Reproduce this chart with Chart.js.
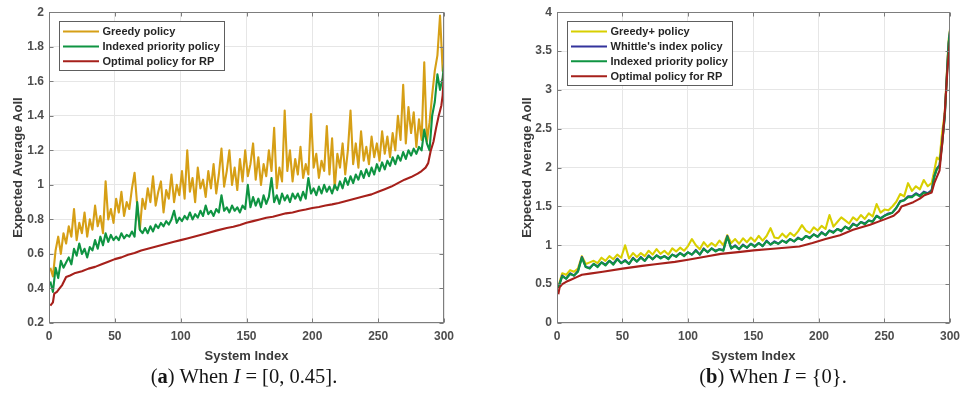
<!DOCTYPE html>
<html><head><meta charset="utf-8">
<script src="https://cdn.jsdelivr.net/npm/chart.js@4.4.0/dist/chart.umd.min.js"></script>
<style>
html,body{margin:0;padding:0;background:#fff;width:966px;height:406px;overflow:hidden}
.wrap{position:absolute;top:0;width:483px;height:370px}
#wa{left:0}#wb{left:483px}
.cap{position:absolute;top:365px;font-family:"Liberation Serif","Times New Roman",serif;font-size:20.5px;color:#151515;white-space:nowrap;transform:translateX(-50%)}
</style></head>
<body>
<div class="wrap" id="wa"><canvas id="ca" width="483" height="370"></canvas></div>
<div class="wrap" id="wb"><canvas id="cb" width="483" height="370"></canvas></div>
<div class="cap" style="left:244px">(<b>a</b>) When <i>I</i> = [0, 0.45].</div>
<div class="cap" style="left:773px">(<b>b</b>) When <i>I</i> = {0}.</div>
<script>
// ---------- tick labels ----------
const xTickValues = [0, 50, 100, 150, 200, 250, 300];
const yTicksA = [0.2, 0.4, 0.6, 0.8, 1, 1.2, 1.4, 1.6, 1.8, 2];
const yTicksB = [0, 0.5, 1, 1.5, 2, 2.5, 3, 3.5, 4];

// ---------- (a) I = [0, 0.45] : system indices 1,3,...,299,300 ----------
const sysIdxA = [];
for (let k = 0; k < 150; k++) sysIdxA.push(2 * k + 1);
sysIdxA.push(300);

const greedyA = [
0.52,0.47,0.62,0.70,0.60,0.72,0.66,0.76,0.70,0.86,
0.68,0.78,0.72,0.84,0.70,0.80,0.74,0.88,0.76,0.82,
0.72,1.02,0.80,0.86,0.78,0.92,0.84,0.96,0.82,0.90,
0.86,0.98,1.07,0.88,0.74,0.92,0.86,0.98,0.90,1.05,
0.88,0.96,1.02,0.84,0.97,0.92,1.06,0.90,1.00,0.94,
1.08,0.92,1.20,0.96,1.04,0.90,1.10,0.98,1.03,0.93,
1.08,0.98,1.12,0.95,1.06,1.21,0.99,1.08,1.20,1.00,
1.10,0.97,1.15,1.02,1.20,1.05,1.12,1.24,1.03,1.16,
1.00,1.12,1.05,1.20,1.08,1.33,0.98,1.10,1.02,1.43,
1.08,1.20,1.02,1.15,1.06,1.22,1.04,1.12,1.06,1.41,
1.10,1.18,1.04,1.14,1.08,1.34,1.06,1.27,0.98,1.18,
1.10,1.24,1.06,1.20,1.43,1.12,1.24,1.10,1.31,1.14,
1.22,1.12,1.28,1.16,1.24,1.14,1.31,1.18,1.28,1.16,
1.30,1.20,1.40,1.26,1.58,1.24,1.45,1.30,1.42,1.22,
1.38,1.26,1.71,1.25,1.36,1.52,1.66,1.75,1.98,1.66,
1.80];

const indexedA = [
0.44,0.38,0.52,0.46,0.56,0.52,0.55,0.58,0.54,0.63,
0.59,0.66,0.60,0.63,0.58,0.64,0.62,0.68,0.63,0.70,
0.65,0.72,0.67,0.71,0.68,0.70,0.68,0.72,0.69,0.71,
0.70,0.73,0.70,0.90,0.74,0.72,0.75,0.72,0.76,0.73,
0.77,0.75,0.78,0.76,0.79,0.77,0.80,0.85,0.78,0.81,
0.79,0.82,0.80,0.84,0.80,0.83,0.81,0.85,0.82,0.88,
0.83,0.85,0.82,0.86,0.84,0.94,0.85,0.87,0.84,0.88,
0.85,0.87,0.84,0.88,0.86,1.00,0.87,0.93,0.88,0.92,
0.87,0.94,0.89,0.93,1.04,0.90,0.94,0.89,0.95,0.91,
0.94,0.90,0.95,0.92,0.95,0.91,0.96,0.92,1.04,0.95,
0.98,0.94,0.99,0.95,1.00,0.96,0.99,0.95,1.00,0.97,
1.02,0.98,1.04,1.00,1.05,1.01,1.06,1.03,1.08,1.04,
1.09,1.05,1.10,1.06,1.12,1.08,1.13,1.09,1.14,1.11,
1.16,1.12,1.17,1.14,1.19,1.15,1.20,1.17,1.21,1.18,
1.22,1.20,1.32,1.24,1.20,1.40,1.48,1.64,1.55,1.62,
1.70];

const optimalIdxA = [1,3,4,6,8,10,13,16,20,
25,30,35,40,45,50,55,60,65,70,75,80,85,90,95,100,105,110,115,120,
127,135,
140,145,150,155,160,165,170,175,180,185,190,195,200,205,210,215,220,225,230,235,240,245,250,255,260,265,270,275,280,
283,286,288,290,292,294,296,298,299,300];
const optimalA = [0.30,0.32,0.37,0.38,0.40,0.42,0.466,0.475,0.49,
0.50,0.515,0.525,0.54,0.555,0.57,0.58,0.595,0.605,0.62,0.63,0.64,0.65,0.66,0.67,0.68,0.69,0.70,0.71,0.72,
0.735,0.75,
0.757,0.768,0.78,0.79,0.80,0.81,0.815,0.825,0.835,0.84,0.85,0.857,0.866,0.872,0.88,0.887,0.895,0.905,0.915,0.925,0.935,0.945,0.96,0.975,0.99,1.01,1.03,1.045,1.065,
1.08,1.10,1.126,1.20,1.25,1.33,1.40,1.46,1.52,1.65];

// ---------- (b) I = {0} : system indices 1,4,...,286 then 288..300 ----------
const sysIdxB = [];
for (let k = 0; k < 96; k++) sysIdxB.push(3 * k + 1);
sysIdxB.push(288, 290, 292, 294, 296, 298, 299, 300);

const greedyPlusB = [
0.47,0.64,0.62,0.68,0.66,0.70,0.86,0.76,0.78,0.80,
0.77,0.84,0.80,0.86,0.82,0.88,0.84,1.00,0.83,0.90,
0.85,0.90,0.86,0.93,0.88,0.95,0.89,0.93,0.88,0.96,
0.92,0.97,0.93,0.99,1.08,1.00,0.95,1.04,0.98,1.03,
0.99,1.06,1.00,1.13,1.03,1.08,1.02,1.09,1.04,1.10,
1.05,1.12,1.06,1.12,1.22,1.10,1.09,1.15,1.10,1.16,
1.12,1.18,1.26,1.19,1.16,1.23,1.19,1.25,1.21,1.39,
1.24,1.30,1.36,1.32,1.28,1.36,1.32,1.39,1.34,1.41,
1.37,1.53,1.42,1.46,1.45,1.50,1.56,1.66,1.63,1.80,
1.70,1.76,1.72,1.84,1.76,1.80,
1.96,2.13,2.10,2.45,2.70,3.35,3.65,3.78];

const whittleB = [
0.46,0.61,0.57,0.64,0.61,0.67,0.85,0.72,0.71,0.76,
0.73,0.78,0.75,0.80,0.76,0.83,0.77,0.81,0.76,0.84,
0.79,0.85,0.80,0.87,0.82,0.87,0.84,0.86,0.83,0.88,
0.86,0.90,0.87,0.91,0.88,0.94,0.88,0.96,0.91,0.96,
0.93,0.95,0.94,1.12,0.96,1.00,0.95,1.01,0.97,1.02,
0.99,1.03,0.99,1.06,1.01,1.05,1.02,1.06,1.04,1.08,
1.05,1.10,1.07,1.12,1.10,1.14,1.11,1.17,1.13,1.19,
1.17,1.21,1.19,1.24,1.21,1.28,1.25,1.30,1.28,1.32,
1.31,1.38,1.35,1.38,1.41,1.42,1.48,1.57,1.58,1.63,
1.63,1.67,1.64,1.69,1.67,1.71,
1.89,1.99,2.03,2.32,2.66,3.32,3.61,3.76];

const indexedB = [
0.45,0.60,0.57,0.63,0.61,0.66,0.84,0.72,0.70,0.76,
0.72,0.78,0.74,0.80,0.75,0.82,0.77,0.80,0.76,0.83,
0.79,0.84,0.80,0.86,0.82,0.87,0.83,0.86,0.82,0.88,
0.85,0.90,0.86,0.91,0.88,0.93,0.88,0.95,0.91,0.96,
0.92,0.95,0.93,1.11,0.96,0.99,0.95,1.00,0.97,1.02,
0.98,1.03,0.99,1.05,1.01,1.04,1.02,1.06,1.03,1.08,
1.05,1.09,1.07,1.12,1.09,1.14,1.11,1.16,1.13,1.19,
1.16,1.21,1.18,1.24,1.21,1.27,1.25,1.30,1.27,1.32,
1.30,1.38,1.34,1.38,1.40,1.42,1.48,1.56,1.58,1.62,
1.62,1.66,1.63,1.68,1.66,1.70,
1.88,1.98,2.02,2.30,2.65,3.30,3.60,3.75];

const optimalIdxB = [1,2,4,7,11,15,19,25,35,50,
65,75,90,100,115,125,140,150,165,185,
195,205,216,226,239,251,257,261,263,272,
277,280,286,288,290,292,294,296,298,300];
const optimalB = [0.37,0.46,0.50,0.53,0.56,0.59,0.62,0.635,0.66,0.70,
0.735,0.756,0.787,0.815,0.86,0.89,0.915,0.935,0.955,0.985,
1.03,1.08,1.13,1.20,1.265,1.34,1.38,1.44,1.50,1.555,
1.60,1.64,1.68,1.80,1.88,1.96,2.30,2.70,3.25,3.64];

// ---------- helpers ----------
const FONT = '"Liberation Sans", Arial, Helvetica, sans-serif';
Chart.defaults.font.family = FONT;
const pts = (xs, ys) => ys.map((v, i) => ({x: xs[i], y: v}));

const framePlugin = {
  id: 'frame',
  afterDatasetsDraw(chart) {
    const {ctx, chartArea: a, scales: {x, y}} = chart;
    ctx.save();
    const L = Math.round(a.left) + 0.5, R = Math.round(a.right) - 0.5;
    const T = Math.round(a.top) + 0.5, B = Math.round(a.bottom) - 0.5;
    ctx.strokeStyle = '#7d7d7d';
    ctx.lineWidth = 1;
    ctx.strokeRect(L, T, R - L, B - T);
    ctx.beginPath();
    x.ticks.forEach(t => {
      const p = Math.round(x.getPixelForValue(t.value)) + 0.5;
      ctx.moveTo(p, B); ctx.lineTo(p, B - 4);
      ctx.moveTo(p, T); ctx.lineTo(p, T + 4);
    });
    y.ticks.forEach(t => {
      const p = Math.round(y.getPixelForValue(t.value)) + 0.5;
      ctx.moveTo(L, p); ctx.lineTo(L + 4, p);
      ctx.moveTo(R, p); ctx.lineTo(R - 4, p);
    });
    ctx.stroke();

    // boxed legend (MATLAB style)
    const items = chart.data.datasets;
    ctx.font = 'bold 11px ' + FONT;
    const maxW = Math.max(...items.map(d => ctx.measureText(d.label).width));
    const bx = Math.round(a.left + 10) + 0.5, by = Math.round(a.top + 9) + 0.5;
    const rowH = 14.9;
    const bw = Math.round(43 + maxW + 5), bh = Math.round(items.length * rowH + 4);
    ctx.fillStyle = '#ffffff';
    ctx.fillRect(bx, by, bw, bh);
    ctx.strokeStyle = '#5e5e5e';
    ctx.strokeRect(bx, by, bw, bh);
    items.forEach((d, i) => {
      const cy = by + 10 + i * rowH;
      ctx.strokeStyle = d.borderColor;
      ctx.lineWidth = 2;
      ctx.beginPath();
      ctx.moveTo(bx + 3.5, cy); ctx.lineTo(bx + 39.5, cy);
      ctx.stroke();
      ctx.fillStyle = '#262626';
      ctx.textBaseline = 'middle';
      ctx.textAlign = 'left';
      ctx.fillText(d.label, bx + 43, cy + 0.5);
    });
    ctx.restore();
  }
};

function makeChart(id, datasets, yTicks, yWidth, padRight, yTitlePad) {
  const tickFont = {size: 12, weight: 'bold'};
  const titleFont = {size: 13, weight: 'bold'};
  return new Chart(document.getElementById(id), {
    type: 'line',
    data: {datasets},
    options: {
      responsive: false,
      animation: false,
      layout: {padding: {left: 0, right: padRight, top: 12, bottom: 0}},
      elements: {point: {radius: 0}, line: {tension: 0, borderWidth: 2.1, borderJoinStyle: 'round'}},
      plugins: {legend: {display: false}, tooltip: {enabled: false}},
      scales: {
        x: {
          type: 'linear', min: 0, max: 300,
          afterBuildTicks: s => { s.ticks = xTickValues.map(v => ({value: v})); },
          ticks: {font: tickFont, color: '#4d4d4d', padding: 6, maxRotation: 0, autoSkip: false,
                  callback: v => String(v)},
          grid: {color: '#e6e6e6', drawTicks: false},
          border: {display: false},
          title: {display: true, text: 'System Index', font: titleFont, color: '#3a3a3a',
                  padding: {top: 0, bottom: 6}},
          afterFit: s => { s.height = 47; }
        },
        y: {
          type: 'linear', min: yTicks[0], max: yTicks[yTicks.length - 1],
          afterBuildTicks: s => { s.ticks = yTicks.map(v => ({value: v})); },
          ticks: {font: tickFont, color: '#4d4d4d', padding: 5, autoSkip: false,
                  callback: v => String(v)},
          grid: {color: '#e6e6e6', drawTicks: false},
          border: {display: false},
          title: {display: true, text: 'Expected Average AoII', font: titleFont, color: '#3a3a3a',
                  padding: {top: yTitlePad, bottom: 0}},
          afterFit: s => { s.width = yWidth; }
        }
      }
    },
    plugins: [framePlugin]
  });
}

const GOLD = '#D69F16', GREEN = '#0F9442', RED = '#A6201B', YELLOW = '#D8CF00', BLUE = '#33339C';

makeChart('ca', [
  {label: 'Greedy policy', data: pts(sysIdxA, greedyA), borderColor: GOLD, order: 3},
  {label: 'Indexed priority policy', data: pts(sysIdxA, indexedA), borderColor: GREEN, order: 2},
  {label: 'Optimal policy for RP', data: pts(optimalIdxA, optimalA), borderColor: RED, order: 1}
], yTicksA, 49, 39, 11);

makeChart('cb', [
  {label: 'Greedy+ policy', data: pts(sysIdxB, greedyPlusB), borderColor: YELLOW, order: 4},
  {label: "Whittle's index policy", data: pts(sysIdxB, whittleB), borderColor: BLUE, order: 3},
  {label: 'Indexed priority policy', data: pts(sysIdxB, indexedB), borderColor: GREEN, order: 2},
  {label: 'Optimal policy for RP', data: pts(optimalIdxB, optimalB), borderColor: RED, order: 1}
], yTicksB, 74, 14, 37);
</script>
</body></html>
